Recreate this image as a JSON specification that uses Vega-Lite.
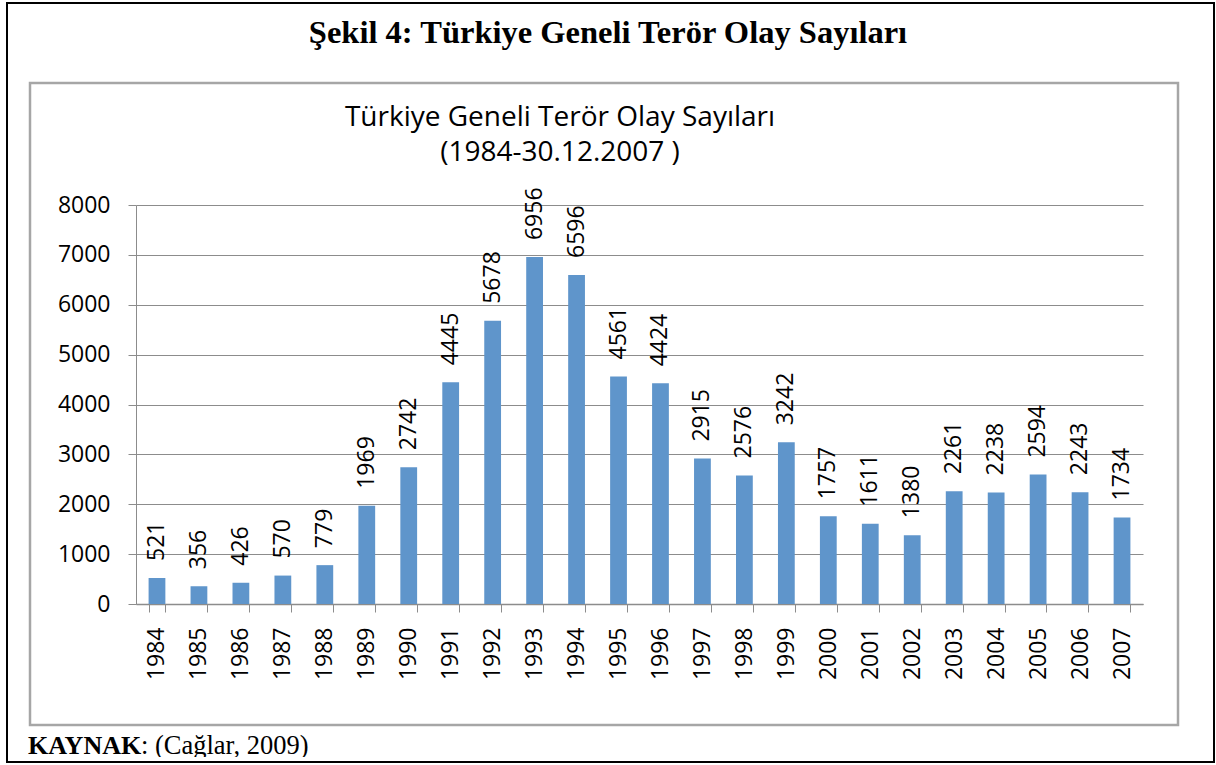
{
  "$schema": "https://vega.github.io/schema/vega-lite/v6.json",
  "width": 1007,
  "height": 399,
  "autosize": {"type": "none"},
  "padding": {"left": 136, "top": 205, "right": 73, "bottom": 161},
  "background": "white",
  "config": {"view": {"stroke": null}},
  "data": {
    "values": [
      {"year": "1984", "count": 521},
      {"year": "1985", "count": 356},
      {"year": "1986", "count": 426},
      {"year": "1987", "count": 570},
      {"year": "1988", "count": 779},
      {"year": "1989", "count": 1969},
      {"year": "1990", "count": 2742},
      {"year": "1991", "count": 4445},
      {"year": "1992", "count": 5678},
      {"year": "1993", "count": 6956},
      {"year": "1994", "count": 6596},
      {"year": "1995", "count": 4561},
      {"year": "1996", "count": 4424},
      {"year": "1997", "count": 2915},
      {"year": "1998", "count": 2576},
      {"year": "1999", "count": 3242},
      {"year": "2000", "count": 1757},
      {"year": "2001", "count": 1611},
      {"year": "2002", "count": 1380},
      {"year": "2003", "count": 2261},
      {"year": "2004", "count": 2238},
      {"year": "2005", "count": 2594},
      {"year": "2006", "count": 2243},
      {"year": "2007", "count": 1734}
    ]
  },
  "layer": [
    {
      "data": {"values": [{"frame": "outer"}]},
      "mark": {"type": "rect", "fill": "white", "fillOpacity": 0, "stroke": "black", "strokeWidth": 2},
      "encoding": {"x": {"value": -129}, "x2": {"value": 1078}, "y": {"value": -202}, "y2": {"value": 557}}
    },
    {
      "data": {"values": [{"frame": "inner"}]},
      "mark": {"type": "rect", "fill": "white", "fillOpacity": 0, "stroke": "#A6A6A6", "strokeWidth": 2.5},
      "encoding": {"x": {"value": -106}, "x2": {"value": 1042}, "y": {"value": -122}, "y2": {"value": 520}}
    },
    {
      "mark": {"type": "bar", "color": "#5F95CB"},
      "encoding": {
        "x": {
          "field": "year",
          "type": "ordinal",
          "scale": {"paddingInner": 0.6, "paddingOuter": 0.3},
          "axis": {
            "title": null,
            "labelAngle": -90,
            "labelAlign": "right",
            "labelBaseline": "middle",
            "labelFont": "Open Sans",
            "labelFontSize": 23,
            "labelColor": "black",
            "labelPadding": 15,
            "tickSize": 8,
            "tickBand": "extent",
            "tickColor": "#8C8C8C",
            "domainColor": "#8C8C8C",
            "domainWidth": 1.5
          }
        },
        "y": {
          "field": "count",
          "type": "quantitative",
          "scale": {"domain": [0, 8000]},
          "axis": {
            "title": null,
            "values": [0, 1000, 2000, 3000, 4000, 5000, 6000, 7000, 8000],
            "format": "d",
            "labelFont": "Open Sans",
            "labelFontSize": 23,
            "labelColor": "black",
            "labelPadding": 18,
            "tickSize": 8,
            "tickColor": "#8C8C8C",
            "domainColor": "#8C8C8C",
            "gridColor": "#8C8C8C",
            "gridWidth": 1.2
          }
        }
      }
    },
    {
      "mark": {"type": "text", "angle": 270, "align": "left", "baseline": "middle", "dx": 17, "font": "Open Sans", "fontSize": 23, "color": "black"},
      "encoding": {
        "x": {"field": "year", "type": "ordinal"},
        "y": {"field": "count", "type": "quantitative"},
        "text": {"field": "count", "type": "quantitative", "format": "d"}
      }
    },
    {
      "data": {"values": [{"label": "Şekil 4: Türkiye Geneli Terör Olay Sayıları"}]},
      "mark": {"type": "text", "font": "Liberation Serif", "fontWeight": "bold", "fontSize": 32.5, "align": "center", "baseline": "alphabetic", "color": "black"},
      "encoding": {"x": {"value": 472}, "y": {"value": -162}, "text": {"field": "label"}}
    },
    {
      "data": {"values": [{"label": "Türkiye Geneli Terör Olay Sayıları"}]},
      "mark": {"type": "text", "font": "Open Sans", "fontSize": 28, "align": "center", "baseline": "alphabetic", "color": "black"},
      "encoding": {"x": {"value": 424}, "y": {"value": -79}, "text": {"field": "label"}}
    },
    {
      "data": {"values": [{"label": "(1984-30.12.2007 )"}]},
      "mark": {"type": "text", "font": "Open Sans", "fontSize": 28, "align": "center", "baseline": "alphabetic", "color": "black"},
      "encoding": {"x": {"value": 424}, "y": {"value": -44}, "text": {"field": "label"}}
    },
    {
      "data": {"values": [{"label": "KAYNAK"}]},
      "mark": {"type": "text", "font": "Liberation Serif", "fontWeight": "bold", "fontSize": 26, "align": "left", "baseline": "alphabetic", "color": "black"},
      "encoding": {"x": {"value": -108}, "y": {"value": 549}, "text": {"field": "label"}}
    },
    {
      "data": {"values": [{"label": ": (Cağlar, 2009)"}]},
      "mark": {"type": "text", "font": "Liberation Serif", "fontSize": 26.5, "align": "left", "baseline": "alphabetic", "color": "black"},
      "encoding": {"x": {"value": 5}, "y": {"value": 549}, "text": {"field": "label"}}
    },
    {
      "data": {"values": [{"mask": "clip"}]},
      "mark": {"type": "rect", "fill": "white", "stroke": null},
      "encoding": {"x": {"value": -127}, "x2": {"value": 220}, "y": {"value": 552}, "y2": {"value": 556}}
    }
  ]
}
